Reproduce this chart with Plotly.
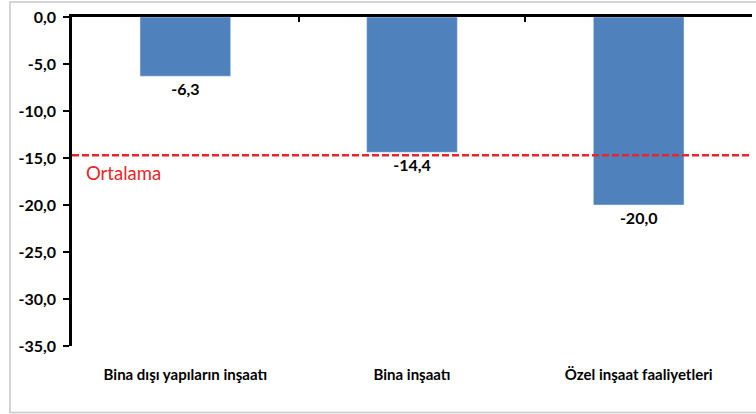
import plotly.graph_objects as go

# data
categories = ['Bina dışı yapıların inşaatı', 'Bina inşaatı', 'Özel inşaat faaliyetleri']
values = [-6.3, -14.4, -20.0]
average = -14.7
average_label = 'Ortalama'
y_ticks = [0, -5, -10, -15, -20, -25, -30, -35]
y_tick_labels = ['0,0', '-5,0', '-10,0', '-15,0', '-20,0', '-25,0', '-30,0', '-35,0']

FONT = 'Lato'

fig = go.Figure()

fig.add_trace(go.Bar(
    x=categories,
    y=values,
    marker_color='#4F81BD',
    text=[f'{v:.1f}'.replace('.', ',') for v in values],
    textposition='outside',
    textfont=dict(family=FONT, size=16, color='black', weight='bold'),
    cliponaxis=False,
    showlegend=False,
))

# empty trace so the top (boundary-tick) axis gets drawn
fig.add_trace(go.Scatter(x=[], y=[], xaxis='x2', yaxis='y',
                         showlegend=False, hoverinfo='skip'))

# average line + label
fig.add_shape(type='line', xref='paper', yref='y', x0=0, x1=1,
              y0=average, y1=average,
              line=dict(color='#E8262A', width=2.5, dash='7px,3px'))
fig.add_annotation(text=average_label, xref='paper', yref='y', x=0.018, y=average - 1.9,
                   xanchor='left', yanchor='middle', showarrow=False,
                   font=dict(family=FONT, size=18.5, color='#E8262A'))

# outer frame
fig.add_shape(type='rect', xref='paper', yref='paper', layer='above',
              x0=(10 - 72) / 680, x1=(757 - 72) / 680,
              y0=(346 - 412.5) / 329, y1=(346 - 2) / 329,
              line=dict(color='#C8C8C8', width=1.5))

fig.update_layout(
    width=756,
    height=414,
    margin=dict(l=72, r=4, t=17, b=68),
    paper_bgcolor='white',
    plot_bgcolor='white',
    bargap=0.6,
    xaxis=dict(
        showline=False,
        ticks='',
        tickfont=dict(family=FONT, size=15, color='black', weight='bold'),
        ticklabelstandoff=18,
        showgrid=False,
    ),
    xaxis2=dict(
        overlaying='x',
        side='top',
        anchor='y',
        range=[-0.5, 2.5],
        tickvals=[-0.5, 0.5, 1.5, 2.5],
        showticklabels=False,
        ticks='inside',
        ticklen=5,
        tickwidth=2,
        tickcolor='black',
        showline=True,
        linecolor='black',
        linewidth=2.5,
        showgrid=False,
        zeroline=False,
    ),
    yaxis=dict(
        range=[-35, 0],
        tickvals=y_ticks,
        ticktext=y_tick_labels,
        tickfont=dict(family=FONT, size=16, color='black', weight='bold'),
        ticks='outside',
        ticklen=6,
        tickwidth=2,
        tickcolor='black',
        ticklabelstandoff=4,
        showline=True,
        linecolor='black',
        linewidth=2.5,
        showgrid=False,
        zeroline=False,
    ),
)

fig.write_html("out.html", config={'displayModeBar': False},
               post_script="document.body.style.margin='0';")
